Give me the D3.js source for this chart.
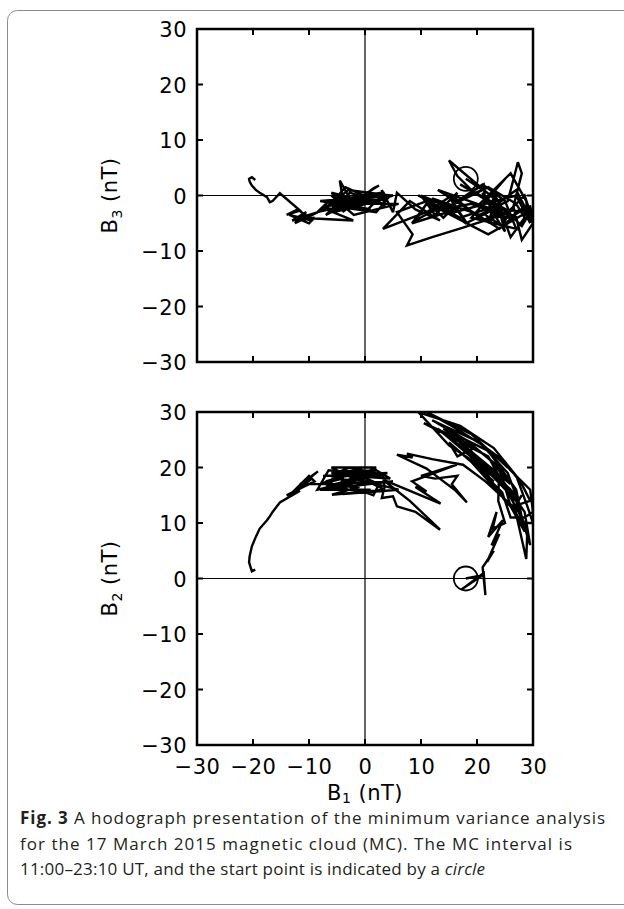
<!DOCTYPE html>
<html>
<head>
<meta charset="utf-8">
<script src="https://cdn.jsdelivr.net/npm/d3@7"></script>
<style>
  body { margin: 0; background: #fff; }
  svg { display: block; }
</style>
</head>
<body>
<div id="chart"></div>
<script>
// hodograph data (time order, start point first)
let b1 = [
  18.0, 21.0, 17.2, 21.2, 21.5, 21.0, 23.0, 21.8, 24.0, 22.6, 24.6, 22.0, 23.5, 22.8, 25.0, 23.8, 23.9, 22.6,
  26.0, 17.0, 27.0, 13.0, 24.0, 28.5, 29.5, 27.0, 16.0, 10.5, 22.0, 29.0, 28.8, 26.0, 20.0, 25.0, 19.0, 27.0,
  25.0, 21.0, 15.0, 9.5, 17.0, 23.0, 27.0, 29.0, 30.0, 28.0, 26.5, 28.0, 27.3, 25.5, 20.5, 12.0, 18.0, 24.0,
  26.0, 28.5, 27.0, 22.0, 14.0, 19.5, 16.5, 15.0, 23.0, 21.5, 24.5, 26.0, 28.5, 30.0, 29.5, 25.5, 19.0, 11.0,
  15.5, 21.0, 25.0, 28.0, 29.5,
  26.4, 21.5, 17.5, 12.0, 7.5, 8.5, 5.7, 11.0, 14.0, 16.0, 18.2, 15.5, 16.5, 12.5, 10.0, 16.4, 8.4, 11.0,
  9.0, 13.5, 3.2, 8.0, 13.4, 9.0, 5.7, 5.0, 3.0, 3.5,
  3.2, -2.7, -5.0, 2.0, 4.5, -3.0, -6.0, 0.5, 3.5, -5.9, -1.0, -4.0, 1.5, 2.5, -2.0, -7.0, -3.0, -4.5,
  -4.0, -8.0, -1.5, -6.0, 0.0, -8.5,
  -6.5, 3.0, -7.5, 4.0, -5.5, 5.0, -8.0, 1.0, -4.0, 6.0, -2.0, -6.0, 2.0, -3.5, -7.0, -2.1,
  -11.6, -8.4, -12.5, -10.5, -13.0, -9.0, -10.0, -13.5, -9.5, -12.0, -14.0, -11.6, -15.2, -16.5, -17.0,
  -17.5, -18.8, -19.5, -20.2, -20.6, -20.7, -20.2, -19.6
];
let b2 = [
  0.0, 0.6, -2.0, 1.0, -3.0, 2.0, 5.0, 3.0, 8.0, 6.0, 10.5, 7.5, 12.0, 9.0, 10.0, 14.0, 18.0, 21.0,
  17.0, 24.5, 15.0, 27.0, 18.5, 12.0, 6.0, 14.0, 25.5, 28.0, 22.0, 9.0, 3.5, 16.0, 22.0, 17.0, 21.0, 12.0,
  14.0, 20.0, 24.0, 30.0, 27.5, 23.5, 18.5, 13.0, 10.0, 10.0, 12.5, 15.0, 14.0, 19.0, 24.5, 28.5, 25.0, 20.0,
  13.0, 8.5, 16.0, 23.0, 27.0, 23.5, 22.0, 24.5, 17.5, 18.5, 15.5, 11.0, 11.0, 12.0, 16.0, 20.0, 26.0, 30.0,
  27.5, 24.0, 21.0, 17.0, 14.0,
  13.0, 17.5, 20.5, 21.5, 22.5, 21.8, 22.3, 19.8, 17.5, 16.0, 13.7, 17.0, 18.5, 18.0, 18.5, 20.5, 17.5, 15.7,
  16.5, 13.5, 17.8, 14.0, 8.8, 12.0, 13.0, 14.8, 14.5, 16.5,
  18.7, 20.0, 19.1, 19.5, 18.0, 18.5, 18.0, 17.5, 16.0, 15.1, 16.5, 17.0, 15.0, 17.0, 19.0, 17.5, 16.0, 16.0,
  18.0, 17.0, 19.5, 19.0, 18.0, 16.0,
  19.5, 18.5, 18.5, 19.0, 17.0, 17.5, 16.0, 16.0, 15.2, 16.0, 18.0, 20.0, 20.0, 17.5, 16.5, 17.0,
  17.0, 19.3, 16.0, 17.5, 15.5, 17.5, 18.5, 15.0, 18.0, 16.0, 15.0, 15.8, 13.7, 12.0, 11.2,
  10.5, 9.0, 7.5, 5.8, 4.0, 2.9, 1.3, 1.6
];
let b3 = [
  3.0, 1.0, -0.5, 2.0, -1.5, 0.5, -3.0, -1.0, -4.0, 1.0, -2.5, -5.0, 0.0, -3.0, -6.5, -2.0, -4.0, -1.0,
  -3.0, 2.0, -4.0, 1.0, -6.0, -2.0, -5.0, 0.0, -3.0, -1.0, -7.0, -3.0, -1.0, 4.0, -2.0, 3.0, -4.0, -6.0,
  -1.0, 2.0, -2.0, 0.0, -4.0, -2.0, 1.0, -3.0, -5.0, -8.0, -2.0, 4.0, 6.0, -1.0, -3.5, -0.5, -5.0, -2.0,
  -7.5, -4.0, -1.5, 1.5, -2.5, 0.5, 3.5, 6.3, -0.5, -3.5, -5.5, -2.5, 0.0, -4.5, -2.0, -4.0, -1.5, -3.0,
  0.0, -4.5, -2.5, -5.5, -3.0,
  -2.7, -4.5, -5.8, -7.5, -9.0, -7.0, -3.0, -1.0, -4.0, -2.0, -5.0, -1.0, 0.5, -3.5, 0.0, -2.5, -5.0, -1.5,
  -4.5, -2.0, -6.0, -1.0, -4.5, -2.5, 0.5, -3.0, 1.0, -2.0,
  -1.5, 0.5, -2.0, -3.0, 0.0, 1.0, -1.5, -2.5, 0.5, -2.0, 0.0, -3.0, 1.3, 1.8, -1.0, -3.5, 0.0, 2.7,
  -0.5, -2.5, -2.0, 0.5, -1.0, -3.0,
  -1.0, 0.5, -2.0, -0.5, -3.0, 0.0, -1.0, -2.5, -1.5, -1.5, -3.5, 0.0, -1.0, 1.5, -2.5, -4.5,
  -4.0, -3.0, -5.0, -3.0, -4.5, -4.0, -5.0, -3.5, -4.5, -2.5, -3.5, -2.7, 0.4, -1.0, -1.2,
  -0.3, 0.5, 1.0, 1.8, 2.5, 3.0, 3.3, 2.8
];

let tickVals = [-30, -20, -10, 0, 10, 20, 30];
let innerTicks = [-20, -10, 0, 10, 20];
let panels = [
  { yData: b3, sub: "3", top: 29 },
  { yData: b2, sub: "2", top: 412 }
];
let captionBold = "Fig. 3";
let captionLines = [
  "A hodograph presentation of the minimum variance analysis",
  "for the 17 March 2015 magnetic cloud (MC). The MC interval is",
  "11:00–23:10 UT, and the start point is indicated by a "
];
let captionItalic = "circle";
let captionWidths = [585, 552, 465];

const svgWidth = 624;
const svgHeight = 909;
const plotLeft = 197;
const plotW = 336;
const plotH = 333;
const tickFont = "'DejaVu Sans', sans-serif";
const tickSize = 21;

const svg = d3.select("#chart")
  .append("svg")
  .attr("width", svgWidth)
  .attr("height", svgHeight);

// card border (rounded, open to the right)
svg.append("rect")
  .attr("x", 7.5)
  .attr("y", 10.5)
  .attr("width", 640)
  .attr("height", 894)
  .attr("rx", 10)
  .attr("fill", "none")
  .attr("stroke", "#8a8a8a")
  .attr("stroke-width", 1);

const xScale = d3.scaleLinear().domain([-30, 30]).range([0, plotW]);
const minus = (d) => d3.format("d")(d).replace("-", "−");

panels.forEach((p, k) => {
  const yScale = d3.scaleLinear().domain([-30, 30]).range([plotH, 0]);

  const g = svg.append("g")
    .attr("transform", `translate(${plotLeft}, ${p.top})`);

  g.append("clipPath")
    .attr("id", "clip" + k)
    .append("rect")
    .attr("width", plotW)
    .attr("height", plotH);

  // zero lines
  g.append("line")
    .attr("x1", xScale(0)).attr("x2", xScale(0))
    .attr("y1", 0).attr("y2", plotH)
    .attr("stroke", "#000").attr("stroke-width", 1.2);
  g.append("line")
    .attr("x1", 0).attr("x2", plotW)
    .attr("y1", yScale(0)).attr("y2", yScale(0))
    .attr("stroke", "#000").attr("stroke-width", 1.2);

  // the trace
  const pts = b1.map((d, i) => [d, p.yData[i]]);
  const line = d3.line()
    .x((d) => xScale(d[0]))
    .y((d) => yScale(d[1]));
  g.append("path")
    .datum(pts)
    .attr("clip-path", `url(#clip${k})`)
    .attr("d", line)
    .attr("fill", "none")
    .attr("stroke", "#000")
    .attr("stroke-width", 2.4)
    .attr("stroke-linejoin", "miter")
    .attr("stroke-miterlimit", 3);

  // start point circle
  g.append("circle")
    .attr("cx", xScale(b1[0]))
    .attr("cy", yScale(p.yData[0]))
    .attr("r", 12)
    .attr("fill", "none")
    .attr("stroke", "#000")
    .attr("stroke-width", 1.8);

  // axes, ticks inward on all sides
  const left = g.append("g")
    .call(d3.axisLeft(yScale).tickValues(tickVals).tickSize(0).tickPadding(10).tickFormat(minus));
  const bottom = g.append("g")
    .attr("transform", `translate(0, ${plotH})`)
    .call(d3.axisBottom(xScale).tickValues(tickVals).tickSize(0).tickPadding(14)
      .tickFormat(k === 1 ? minus : ""));
  [left, bottom].forEach((a) => {
    a.select(".domain").remove();
    a.selectAll("text")
      .attr("font-family", tickFont)
      .attr("font-size", tickSize)
      .attr("letter-spacing", 0.5)
      .attr("fill", "#000");
  });
  left.selectAll("text").attr("dy", "0.36em");

  const ticks = g.append("g").attr("stroke", "#000").attr("stroke-width", 2);
  innerTicks.forEach((v) => {
    ticks.append("line").attr("x1", xScale(v)).attr("x2", xScale(v)).attr("y1", 0).attr("y2", 6);
    ticks.append("line").attr("x1", xScale(v)).attr("x2", xScale(v)).attr("y1", plotH).attr("y2", plotH - 6);
    ticks.append("line").attr("y1", yScale(v)).attr("y2", yScale(v)).attr("x1", 0).attr("x2", 6);
    ticks.append("line").attr("y1", yScale(v)).attr("y2", yScale(v)).attr("x1", plotW).attr("x2", plotW - 6);
  });

  g.append("rect")
    .attr("width", plotW)
    .attr("height", plotH)
    .attr("fill", "none")
    .attr("stroke", "#000")
    .attr("stroke-width", 2.5);

  // y title
  const yt = g.append("text")
    .attr("transform", `translate(-80, ${plotH / 2}) rotate(-90)`)
    .attr("text-anchor", "middle")
    .attr("font-family", tickFont)
    .attr("font-size", tickSize)
    .attr("letter-spacing", 0.5);
  yt.append("tspan").text("B");
  yt.append("tspan").attr("font-size", 14).attr("dy", 5).text(p.sub);
  yt.append("tspan").attr("dy", -5).text(" (nT)");
});

// x title
const xt = svg.append("text")
  .attr("x", plotLeft + plotW / 2)
  .attr("y", 800)
  .attr("text-anchor", "middle")
  .attr("font-family", tickFont)
  .attr("font-size", tickSize)
  .attr("letter-spacing", 0.5);
xt.append("tspan").text("B");
xt.append("tspan").attr("font-size", 14).attr("dy", 3).text("1");
xt.append("tspan").attr("dy", -3).text(" (nT)");

// caption
const cap = svg.append("g")
  .attr("font-family", "'Open Sans', sans-serif")
  .attr("font-size", 17)
  .attr("fill", "#231f20");
captionLines.forEach((txt, i) => {
  const t = cap.append("text")
    .attr("x", 20)
    .attr("y", 824 + i * 25.5)
    .attr("textLength", captionWidths[i])
    .attr("lengthAdjust", "spacing");
  if (i === 0) {
    t.append("tspan").attr("font-weight", "bold").text(captionBold + "  ");
  }
  t.append("tspan").text(txt);
  if (i === captionLines.length - 1) {
    t.append("tspan").attr("font-style", "italic").text(captionItalic);
  }
});
</script>
</body>
</html>
